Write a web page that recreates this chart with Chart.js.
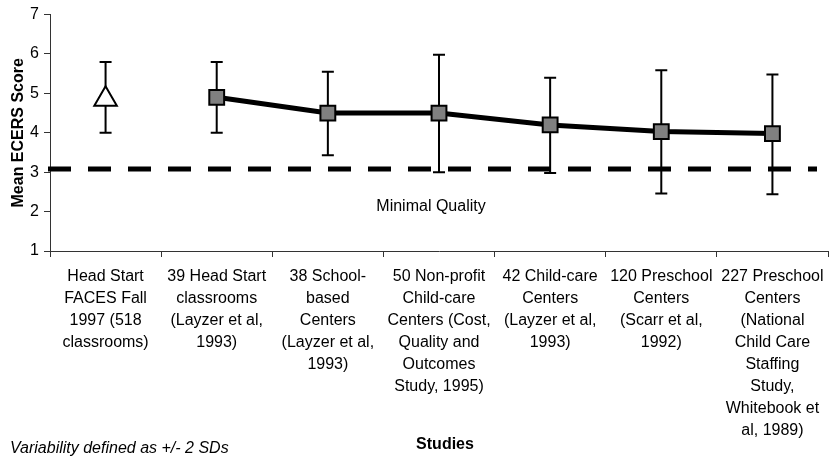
<!DOCTYPE html>
<html>
<head>
<meta charset="utf-8">
<script src="https://cdn.jsdelivr.net/npm/chart.js@4/dist/chart.umd.min.js"></script>
<style>
  html, body { margin: 0; padding: 0; background: #fff; }
</style>
</head>
<body>
<canvas id="chart" width="830" height="457"></canvas>
<script>
const studies = [
  ["Head Start", "FACES Fall", "1997 (518", "classrooms)"],
  ["39 Head Start", "classrooms", "(Layzer et al,", "1993)"],
  ["38 School-", "based", "Centers", "(Layzer et al,", "1993)"],
  ["50 Non-profit", "Child-care", "Centers (Cost,", "Quality and", "Outcomes", "Study, 1995)"],
  ["42 Child-care", "Centers", "(Layzer et al,", "1993)"],
  ["120 Preschool", "Centers", "(Scarr et al,", "1992)"],
  ["227 Preschool", "Centers", "(National", "Child Care", "Staffing", "Study,", "Whitebook et", "al, 1989)"]
]
const facesScore = [4.85, null, null, null, null, null, null]
const otherScores = [null, 4.9, 4.5, 4.5, 4.2, 4.03, 3.98]
const lowerSD = [4.0, 4.0, 3.43, 3.0, 2.98, 2.46, 2.44]
const upperSD = [5.8, 5.8, 5.55, 5.98, 5.4, 5.59, 5.48]
const minimalQuality = 3.08

Chart.defaults.font.family = "'Liberation Sans', Arial, sans-serif"
Chart.defaults.color = "#000"

const extras = {
  id: "extras",
  beforeDatasetsDraw(chart) {
    const { ctx, chartArea, scales: { x, y } } = chart
    ctx.save()
    // minimal quality line
    ctx.strokeStyle = "#000"
    ctx.lineWidth = 5
    ctx.setLineDash([23, 17])
    const yq = y.getPixelForValue(minimalQuality)
    ctx.beginPath()
    ctx.moveTo(chartArea.left - 2, yq)
    ctx.lineTo(chartArea.right - 11, yq)
    ctx.stroke()
    ctx.setLineDash([])
    // +/- 2 SD bars
    ctx.lineWidth = 2
    lowerSD.forEach((lo, i) => {
      const px = x.getPixelForValue(i)
      const top = y.getPixelForValue(upperSD[i])
      const bot = y.getPixelForValue(lo)
      ctx.beginPath()
      ctx.moveTo(px, top); ctx.lineTo(px, bot)
      ctx.moveTo(px - 6, top); ctx.lineTo(px + 6, top)
      ctx.moveTo(px - 6, bot); ctx.lineTo(px + 6, bot)
      ctx.stroke()
    })
    ctx.restore()
  },
  afterDraw(chart) {
    const { ctx, chartArea } = chart
    ctx.save()
    ctx.fillStyle = "#000"
    ctx.textBaseline = "middle"
    ctx.textAlign = "center"
    ctx.font = "16px 'Liberation Sans', Arial, sans-serif"
    ctx.fillText("Minimal Quality", chartArea.left + 381, chartArea.bottom - 44)
    ctx.font = "bold 16px 'Liberation Sans', Arial, sans-serif"
    ctx.fillText("Studies", 445, 445)
    ctx.textAlign = "left"
    ctx.font = "italic 16px 'Liberation Sans', Arial, sans-serif"
    ctx.fillText("Variability defined as +/- 2 SDs", 10, 449)
    ctx.restore()
  }
}

new Chart(document.getElementById("chart"), {
  type: "line",
  data: {
    labels: studies,
    datasets: [
      {
        data: facesScore,
        showLine: false,
        pointStyle: "triangle",
        pointRadius: 13,
        pointBackgroundColor: "#fff",
        pointBorderColor: "#000",
        pointBorderWidth: 2
      },
      {
        data: otherScores,
        borderColor: "#000",
        borderWidth: 5,
        tension: 0,
        pointStyle: "rect",
        pointRadius: 10.5,
        pointBackgroundColor: "#808080",
        pointBorderColor: "#000",
        pointBorderWidth: 2
      }
    ]
  },
  options: {
    responsive: false,
    animation: false,
    layout: { autoPadding: false, padding: { top: 14, right: 2, left: 0, bottom: 0 } },
    plugins: { legend: { display: false }, tooltip: { enabled: false } },
    scales: {
      x: {
        offset: true,
        grid: { offset: true, drawOnChartArea: false, tickLength: 6, color: "#333" },
        border: { color: "#333" },
        ticks: {
          autoSkip: false, maxRotation: 0, minRotation: 0, padding: 9,
          font: { size: 16, lineHeight: 1.375 }
        },
        afterFit(scale) {
          scale.height = 206
          scale.paddingLeft = 0
          scale.paddingRight = 0
        }
      },
      y: {
        min: 1,
        max: 7,
        grid: { drawOnChartArea: false, tickLength: 6, color: "#333" },
        border: { color: "#333" },
        ticks: { stepSize: 1, padding: 5, font: { size: 16 } },
        title: {
          display: true,
          text: "Mean ECERS Score",
          font: { size: 16, weight: "bold" },
          padding: { top: 9, bottom: 0 }
        },
        afterFit(scale) { scale.width = 50 }
      }
    }
  },
  plugins: [extras]
})
</script>
</body>
</html>
